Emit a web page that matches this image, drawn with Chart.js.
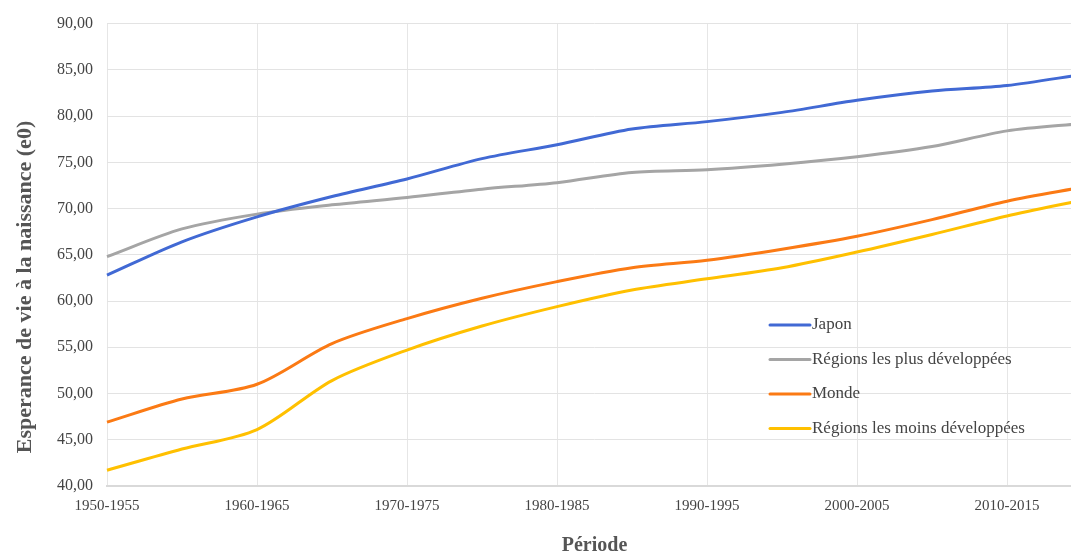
<!DOCTYPE html>
<html>
<head>
<meta charset="utf-8">
<script src="https://cdn.jsdelivr.net/npm/chart.js@4.4.1/dist/chart.umd.min.js"></script>
<style>
  html, body { margin: 0; padding: 0; background: #fff; overflow: hidden; }
  /* canvas is a bit wider than the window: the last period falls just past the right edge */
  #wrap { position: relative; width: 1086px; height: 556px; }
</style>
</head>
<body>
<div id="wrap"><canvas id="lifeChart"></canvas></div>
<script>
// --- DATA ---
const periods = ['1950-1955', '1955-1960', '1960-1965', '1965-1970', '1970-1975', '1975-1980', '1980-1985',
                 '1985-1990', '1990-1995', '1995-2000', '2000-2005', '2005-2010', '2010-2015', '2015-2020'];
const japon      = [62.8, 66.4, 69.1, 71.3, 73.2, 75.4, 76.9, 78.6, 79.4, 80.4, 81.7, 82.7, 83.3, 84.5];
const plusDev    = [64.8, 67.8, 69.4, 70.4, 71.2, 72.1, 72.8, 73.9, 74.2, 74.8, 75.6, 76.7, 78.4, 79.2];
const monde      = [46.9, 49.4, 51.0, 55.4, 58.1, 60.3, 62.1, 63.6, 64.4, 65.6, 67.0, 68.8, 70.8, 72.3];
const moinsDev   = [41.7, 44.0, 46.1, 51.4, 54.7, 57.3, 59.4, 61.2, 62.4, 63.6, 65.3, 67.2, 69.2, 70.9];
const yTicks     = [40, 45, 50, 55, 60, 65, 70, 75, 80, 85, 90];

const serif = '"Liberation Serif", "DejaVu Serif", serif';
const textColor = '#444';

// Legend drawn inside the plot, like the original
const innerLegend = {
    id: 'innerLegend',
    afterDraw(chart, args, opts) {
        const ctx = chart.ctx;
        ctx.save();
        ctx.font = `${opts.fontSize}px ${serif}`;
        ctx.textBaseline = 'middle';
        chart.data.datasets.forEach((ds, i) => {
            const y = opts.top + i * opts.rowGap;
            ctx.strokeStyle = ds.borderColor;
            ctx.lineWidth = 3;
            ctx.lineCap = 'round';
            ctx.beginPath();
            ctx.moveTo(opts.left, y);
            ctx.lineTo(opts.left + opts.lineLen, y);
            ctx.stroke();
            ctx.fillStyle = textColor;
            ctx.fillText(ds.label, opts.left + opts.lineLen + 2, y);
        });
        ctx.restore();
    }
};

// Y title sits a little below the middle of the axis in the original
const yTitle = {
    id: 'yTitle',
    afterDraw(chart, args, opts) {
        const ctx = chart.ctx;
        ctx.save();
        ctx.translate(opts.x, opts.y);
        ctx.rotate(-Math.PI / 2);
        ctx.font = `bold ${opts.fontSize}px ${serif}`;
        ctx.fillStyle = '#555';
        ctx.textAlign = 'center';
        ctx.textBaseline = 'middle';
        ctx.fillText(opts.text, 0, 0);
        ctx.restore();
    }
};

const ctx = document.getElementById('lifeChart').getContext('2d');
new Chart(ctx, {
    type: 'line',
    data: {
        labels: periods,
        datasets: [
            { label: 'Japon', data: japon, borderColor: '#4169d4' },
            { label: 'Régions les plus développées', data: plusDev, borderColor: '#a5a5a5' },
            { label: 'Monde', data: monde, borderColor: '#fb7a14' },
            { label: 'Régions les moins développées', data: moinsDev, borderColor: '#ffc000' }
        ]
    },
    options: {
        responsive: true,
        maintainAspectRatio: false,
        animation: false,
        layout: { padding: { left: 43, top: 20, right: 4, bottom: 0 } },
        elements: {
            line: { borderWidth: 3, tension: 0.3, fill: false },
            point: { radius: 0 }
        },
        plugins: {
            legend: { display: false },
            tooltip: { enabled: false },
            innerLegend: { left: 770, top: 325, rowGap: 34.5, lineLen: 40, fontSize: 17 },
            yTitle: { x: 25, y: 287, fontSize: 22, text: 'Esperance de vie à la naissance (e0)' }
        },
        scales: {
            x: {
                offset: false,
                grid: { color: '#e6e6e6', lineWidth: 1, drawTicks: false },
                border: { color: '#d9d9d9', width: 2 },
                ticks: {
                    autoSkip: false, maxRotation: 0, padding: 11,
                    color: textColor, font: { family: serif, size: 15 },
                    callback: (v, i) => (i % 2 === 0 ? periods[i] : null)
                },
                title: {
                    display: true, text: 'Période', color: '#555',
                    font: { family: serif, size: 20, weight: 'bold', lineHeight: 1.0 },
                    padding: { top: 10, bottom: 0 }
                }
            },
            y: {
                min: yTicks[0],
                max: yTicks[yTicks.length - 1],
                afterBuildTicks: axis => { axis.ticks = yTicks.map(v => ({ value: v })); },
                grid: { color: '#e3e3e3', lineWidth: 1, drawTicks: false },
                border: { display: false },
                ticks: {
                    padding: 14, color: textColor, font: { family: serif, size: 16 },
                    callback: v => v.toFixed(2).replace('.', ',')
                }
            }
        }
    },
    plugins: [innerLegend, yTitle]
});
</script>
</body>
</html>
